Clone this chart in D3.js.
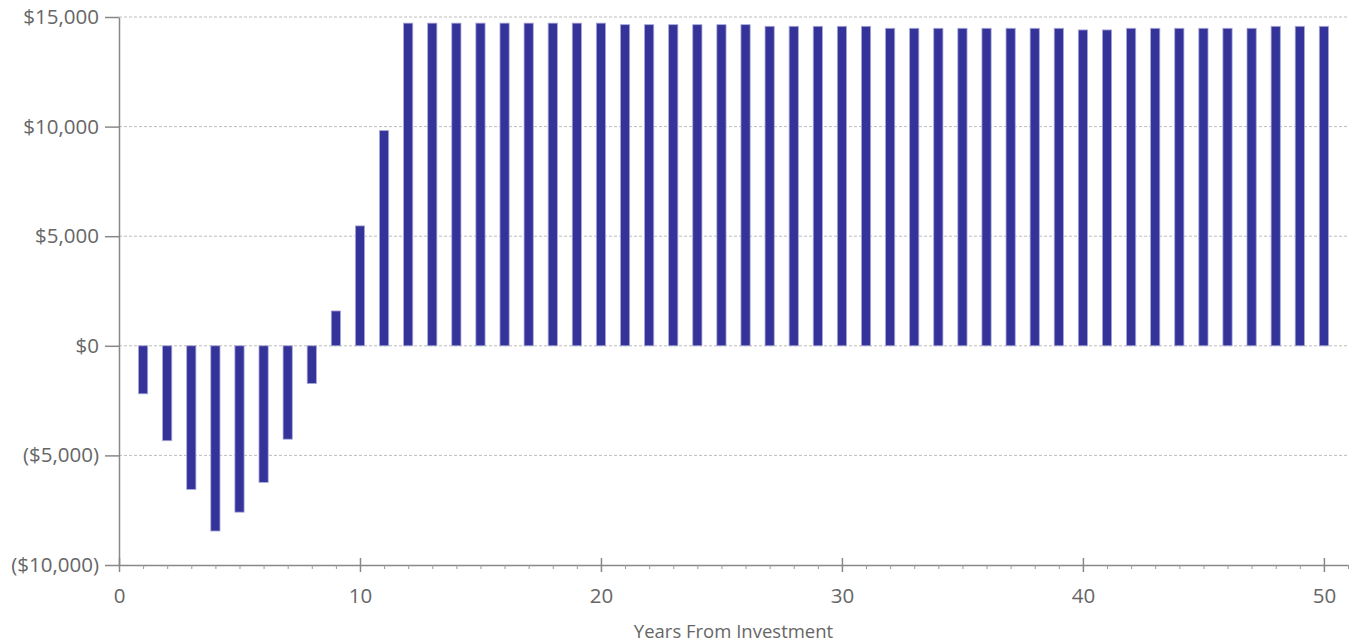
<!DOCTYPE html>
<html>
<head>
<meta charset="utf-8">
<script src="https://cdn.jsdelivr.net/npm/d3@7"></script>
<style>
  html, body { margin: 0; padding: 0; background: #fff; }
  svg text { font-family: "Open Sans", "Noto Sans", sans-serif; fill: #666; }
</style>
</head>
<body>
<svg id="chart" width="1359" height="644"></svg>
<script>
const years = d3.range(1, 51);
const cashFlow = [
  -2190, -4330, -6550, -8450, -7590, -6230, -4260, -1720, 1590, 5470,
  9820, 14720, 14720, 14720, 14720, 14720, 14720, 14720, 14720, 14720,
  14650, 14650, 14650, 14650, 14650, 14650, 14575, 14575, 14575, 14575,
  14575, 14485, 14485, 14485, 14485, 14485, 14485, 14485, 14485, 14410,
  14410, 14485, 14485, 14485, 14485, 14485, 14485, 14575, 14575, 14575
];
const yTicks = [-10000, -5000, 0, 5000, 10000, 15000];
const xMajorTicks = [0, 10, 20, 30, 40, 50];
const xTitle = "Years From Investment";

const svg = d3.select("#chart");
const mLeft = 119, mRight = 1348, mTop = 17, mBottom = 565;

const x = d3.scaleLinear().domain([0, 51]).range([mLeft, mRight]);
const y = d3.scaleLinear().domain([-10000, 15000]).range([mBottom, mTop]);

const num = d3.format(",");
const money = v => v < 0 ? "($" + num(-v) + ")" : "$" + num(v);

// gridlines
svg.append("g")
  .selectAll("line")
  .data(yTicks.filter(v => v > -10000))
  .join("line")
  .attr("x1", mLeft).attr("x2", mRight)
  .attr("y1", d => y(d)).attr("y2", d => y(d))
  .attr("stroke", "#bdbdbd")
  .attr("stroke-width", 1)
  .attr("stroke-dasharray", "3,2");

// bars
const barW = 9.2;
svg.append("g")
  .selectAll("rect")
  .data(years.map((yr, i) => ({ yr, v: cashFlow[i] })))
  .join("rect")
  .attr("x", d => x(d.yr) - barW / 2)
  .attr("width", barW)
  .attr("y", d => y(Math.max(0, d.v)))
  .attr("height", d => Math.abs(y(d.v) - y(0)))
  .attr("fill", "#333399")
  .attr("stroke", "#a8a8d8")
  .attr("stroke-width", 0.8);

// y axis
const yAxis = svg.append("g")
  .attr("transform", `translate(${mLeft},0)`)
  .call(d3.axisLeft(y).tickValues(yTicks).tickFormat(money).tickSize(14).tickPadding(6).tickSizeOuter(0));
yAxis.select(".domain").attr("stroke", "#888").attr("stroke-width", 1.5);
yAxis.selectAll(".tick line").attr("stroke", "#888").attr("stroke-width", 1.5);
yAxis.selectAll("text").style("font-size", "20.5px").attr("fill", "#666");

// x axis minor ticks
const xMinor = svg.append("g")
  .attr("transform", `translate(0,${mBottom})`)
  .call(d3.axisBottom(x).tickValues(d3.range(0, 52)).tickSize(4).tickFormat("").tickSizeOuter(0));
xMinor.select(".domain").attr("stroke", "#888").attr("stroke-width", 1.5);
xMinor.selectAll(".tick line").attr("stroke", "#999").attr("stroke-width", 1);

// x axis major ticks
const xMajor = svg.append("g")
  .attr("transform", `translate(0,${mBottom})`)
  .call(d3.axisBottom(x).tickValues(xMajorTicks).tickSize(7).tickPadding(16).tickSizeOuter(0));
xMajor.select(".domain").remove();
xMajor.selectAll(".tick line").attr("y1", -7).attr("stroke", "#888").attr("stroke-width", 1.5);
xMajor.selectAll("text").style("font-size", "20.5px").attr("fill", "#666");

// x title
svg.append("text")
  .attr("x", (mLeft + mRight) / 2)
  .attr("y", 638)
  .attr("text-anchor", "middle")
  .style("font-size", "18.5px")
  .text(xTitle);
</script>
</body>
</html>
